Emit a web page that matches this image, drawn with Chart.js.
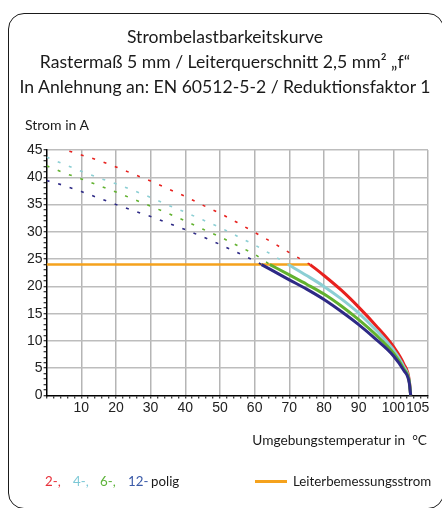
<!DOCTYPE html>
<html>
<head>
<meta charset="utf-8">
<script src="https://cdn.jsdelivr.net/npm/chart.js@4.4.0/dist/chart.umd.min.js"></script>
<style>
  html, body { margin: 0; padding: 0; background: #fff; }
  body { width: 442px; height: 508px; position: relative; overflow: hidden;
         font-family: Lato, "Noto Sans", sans-serif; color: #1a1a1a; }
  #frame { position: absolute; left: 8px; top: 13px; width: 436px; height: 496px;
           border: 1.8px solid #1a1a1a; border-radius: 16px; box-sizing: border-box; }
  #chart { position: absolute; left: 0; top: 0; }
  .t { position: absolute; white-space: nowrap; }
  #title { left: 9px; width: 432px; top: 24px; text-align: center; font-size: 17.6px; line-height: 25px; }
  #ylab { left: 25px; top: 118px; font-size: 14px; line-height: 14px; }
  #xlab { right: 15px; top: 433px; font-size: 13.7px; line-height: 14px; }
  .lg { top: 474px; font-size: 13.3px; line-height: 14px; }
  #swatch { position: absolute; left: 255px; top: 479.5px; width: 32px; height: 3px; background: #f5a21d; }
</style>
</head>
<body>
<div id="frame"></div>
<canvas id="chart" width="442" height="508"></canvas>
<div id="title" class="t">Strombelastbarkeitskurve<br>Rastermaß 5 mm / Leiterquerschnitt 2,5 mm² „f“<br>In Anlehnung an: EN 60512-5-2 / Reduktionsfaktor 1</div>
<div id="ylab" class="t">Strom in A</div>
<div id="xlab" class="t">Umgebungstemperatur in &nbsp;°C</div>
<div class="t lg" style="left:45px;color:#e8303a">2-,</div>
<div class="t lg" style="left:73px;color:#7cc8d6">4-,</div>
<div class="t lg" style="left:100px;color:#5db33a">6-,</div>
<div class="t lg" style="left:128px;color:#3a5aa8">12-</div>
<div class="t lg" style="left:151px">polig</div>
<div id="swatch"></div>
<div class="t lg" style="left:293px">Leiterbemessungsstrom</div>
<script>
// Strombelastbarkeit
// dotted part = above rated current, solid part = usable range

// 2-polig
const temps2Over = [0, 5, 10, 15, 20, 25, 30, 35, 40, 45, 50, 55, 60, 65, 70, 76];
const amps2Over = [46.2, 45.1, 44.1, 43.1, 41.9, 40.6, 39.3, 37.9, 36.5, 34.9, 33.4, 31.7, 29.9, 28.1, 26.2, 24];
const temps2 = [76, 80, 85, 90, 95, 100, 103, 104.6, 105];
const amps2 = [24, 22.0, 19.3, 16.2, 12.8, 9.0, 5.8, 2.8, 0];

// 4-polig
const temps4Over = [0, 5, 10, 15, 20, 25, 30, 35, 40, 45, 50, 55, 60, 65, 69.7];
const amps4Over = [43.7, 42.4, 41.1, 39.9, 38.8, 37.6, 36.3, 34.9, 33.6, 32.2, 30.8, 29.2, 27.6, 25.8, 24];
const temps4 = [69.7, 75, 80, 85, 90, 95, 100, 103, 104.6, 105];
const amps4 = [24, 22.0, 20.0, 17.7, 15.1, 12.0, 8.4, 5.3, 2.6, 0];

// 6-polig
const temps6Over = [0, 5, 10, 15, 20, 25, 30, 35, 40, 45, 50, 55, 60, 64.4];
const amps6Over = [42.1, 40.8, 39.7, 38.5, 37.3, 36.0, 34.7, 33.4, 32.0, 30.5, 29.1, 27.5, 25.9, 24];
const temps6 = [64.4, 70, 75, 80, 85, 90, 95, 100, 103, 104.6, 105];
const amps6 = [24, 22.1, 20.4, 18.6, 16.4, 13.9, 11.1, 7.8, 4.9, 2.5, 0];

// 12-polig
const temps12Over = [0, 5, 10, 15, 20, 25, 30, 35, 40, 45, 50, 55, 60, 62];
const amps12Over = [39.4, 38.5, 37.4, 36.2, 35.0, 33.9, 32.8, 31.6, 30.4, 29.1, 27.7, 26.2, 24.7, 24];
const temps12 = [62, 70, 75, 80, 85, 90, 95, 100, 103, 104.6, 105];
const amps12 = [24, 21.2, 19.5, 17.6, 15.4, 13.0, 10.3, 7.3, 4.6, 2.3, 0];

// Leiterbemessungsstrom
const ratedTemps = [0, 76];
const ratedAmps = [24, 24];

// axis labels
const xTickLabels = [10, 20, 30, 40, 50, 60, 70, 80, 90, 100];
const yTickLabels = [0, 5, 10, 15, 20, 25, 30, 35, 40, 45];

const red = "#e8211e", cyan = "#8ccfd4", green = "#62b22f", blue = "#2e2a86", orange = "#f5a21d";

function pts(xs, ys) {
  return xs.map((x, i) => ({ x: x, y: ys[i] }));
}

function dotted(xs, ys, color) {
  return { data: pts(xs, ys), borderColor: color, borderWidth: 1.6, borderDash: [3, 9], pointRadius: 0 };
}

function solid(xs, ys, color) {
  return { data: pts(xs, ys), borderColor: color, borderWidth: 3, pointRadius: 0, cubicInterpolationMode: "monotone" };
}

const tickFont = { family: "'Liberation Sans', Arial, sans-serif", size: 14 };

new Chart(document.getElementById("chart").getContext("2d"), {
  type: "line",
  data: {
    datasets: [
      dotted(temps12Over, amps12Over, blue),
      dotted(temps6Over, amps6Over, green),
      dotted(temps4Over, amps4Over, cyan),
      dotted(temps2Over, amps2Over, red),
      solid(temps12, amps12, blue),
      solid(temps6, amps6, green),
      solid(temps4, amps4, cyan),
      solid(temps2, amps2, red),
      { data: pts(ratedTemps, ratedAmps), borderColor: orange, borderWidth: 2.6, pointRadius: 0 }
    ]
  },
  options: {
    responsive: false,
    animation: false,
    layout: { padding: { left: 22.6, right: 14, top: 150, bottom: 90.5 } },
    plugins: { legend: { display: false }, tooltip: { enabled: false } },
    scales: {
      x: {
        type: "linear", min: 0, max: 110,
        afterFit: s => { s.height = 22; },
        ticks: {
          stepSize: 1, autoSkip: false, maxRotation: 0, padding: 1,
          color: "#222", font: tickFont,
          // "105" sits a little right of its tick so it clears "100", as in the original
          callback: v => xTickLabels.includes(v) ? String(v) : (v === 107 ? "105" : "")
        },
        grid: {
          color: c => (c.tick.value % 10 === 0 && c.tick.value > 0) ? "#b5b5b5" : "transparent",
          lineWidth: 1.5, tickLength: 3, tickWidth: 1,
          tickColor: c => c.tick.value % 2 === 0 ? "#000" : "transparent"
        },
        border: { color: "#000", width: 1.5 }
      },
      y: {
        min: 0, max: 45,
        afterFit: s => { s.width = 24; },
        ticks: {
          stepSize: 1, autoSkip: false, padding: 1,
          color: "#222", font: tickFont,
          callback: v => yTickLabels.includes(v) ? String(v) : ""
        },
        grid: {
          color: c => (c.tick.value % 5 === 0 && c.tick.value > 0) ? "#bdbdbd" : "transparent",
          lineWidth: 1.5, tickLength: 3, tickWidth: 1, tickColor: "#000"
        },
        border: { color: "#000", width: 1.5 }
      }
    }
  }
});
</script>
</body>
</html>
